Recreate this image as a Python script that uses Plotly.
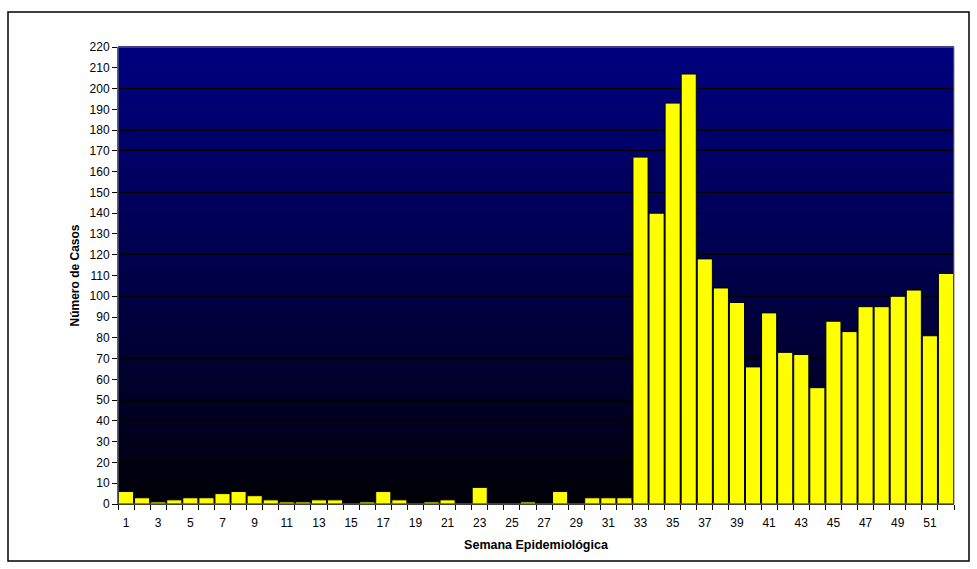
import plotly.graph_objects as go

weeks = list(range(1, 53))
cases = [6, 3, 1, 2, 3, 3, 5, 6, 4, 2, 1, 1, 2, 2, 0, 1, 6, 2, 0, 1,
         2, 0, 8, 0, 0, 1, 0, 6, 0, 3, 3, 3, 167, 140, 193, 207, 118, 104, 97, 66,
         92, 73, 72, 56, 88, 83, 95, 95, 100, 103, 81, 111]
x_labels = [str(w) for w in range(1, 53, 2)]
y_ticks = list(range(0, 221, 10))

W, H = 977, 569
ML, MR, MT, MB = 118, 23, 47, 65

fig = go.Figure()
fig.add_trace(go.Bar(
    x=weeks, y=cases,
    marker=dict(color="#FFFF00", line=dict(color="#000000", width=1)),
))

shapes = []
# gradient background
N = 120
for i in range(N):
    f0 = i / N
    f1 = (i + 1) / N
    fm = (f0 + f1) / 2
    b = int(round(4 + 124 * fm ** 0.85))
    shapes.append(dict(type="rect", xref="x domain", yref="y domain",
                       x0=0, x1=1, y0=f0, y1=f1 + 0.002,
                       fillcolor=f"rgb(0,0,{b})", line=dict(width=0), layer="below"))
# plot area border
shapes.append(dict(type="rect", xref="x domain", yref="y domain", x0=0, x1=1, y0=0, y1=1,
                   line=dict(color="#808080", width=1), layer="above"))
# outer chart border
pw = W - ML - MR
ph = H - MT - MB
shapes.append(dict(type="rect", xref="paper", yref="paper",
                   x0=(8 - ML) / pw, x1=(969 - ML) / pw,
                   y0=(H - MB - 561) / ph, y1=(H - MB - 12) / ph,
                   line=dict(color="#000000", width=1.5), layer="above"))

fig.update_layout(
    width=W, height=H,
    margin=dict(l=ML, r=MR, t=MT, b=MB),
    paper_bgcolor="white", plot_bgcolor="rgba(0,0,0,0)",
    bargap=0.06, showlegend=False,
    shapes=shapes,
    font=dict(family="Liberation Sans, Arial, sans-serif", size=12, color="#000000"),
)
fig.update_xaxes(
    range=[0.5, 52.5], tickmode="array", tickvals=list(range(1, 53, 2)), ticktext=x_labels,
    ticks="outside", ticklen=5, tickcolor="rgba(0,0,0,0)", ticklabelstandoff=3,
    showgrid=False, zeroline=False,
    showline=True, linecolor="#000000", linewidth=1,
    minor=dict(tickmode="array", tickvals=[w + 0.5 for w in range(0, 53)],
               ticks="outside", ticklen=5, tickcolor="#000000", showgrid=False),
    tickfont=dict(size=12),
    title=dict(text="<b>Semana Epidemiológica</b>", font=dict(size=12.5), standoff=10),
)
fig.update_yaxes(
    range=[0, 220], tickmode="array", tickvals=y_ticks, ticktext=[str(v) for v in y_ticks],
    ticks="outside", ticklen=5, tickcolor="#000000",
    showgrid=True, gridcolor="#000000", gridwidth=1, zeroline=False,
    showline=True, linecolor="#404040", linewidth=1,
    tickfont=dict(size=12),
    title=dict(text="<b>Número de Casos</b>", font=dict(size=12), standoff=7),
)

fig.write_html("out.html")
